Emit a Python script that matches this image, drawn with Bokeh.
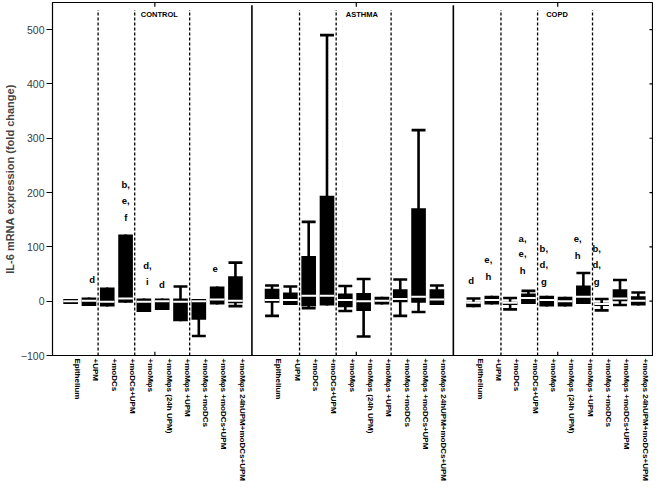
from bokeh.plotting import figure
from bokeh.models import FixedTicker, Range1d, ColumnDataSource
from bokeh.embed import file_html
from bokeh.resources import INLINE
from bokeh.core.properties import value

# ---------------- data ----------------
groups = ["CONTROL", "ASTHMA", "COPD"]
conditions = ["Epithelium", "+UPM", "+moDCs", "+moDCs+UPM", "+moMφs",
              "+moMφs (24h UPM)", "+moMφs +UPM", "+moMφs +moDCs",
              "+moMφs +moDCs+UPM", "+moMφs 24hUPM+moDCs+UPM"]
y_ticks = [-100, 0, 100, 200, 300, 400, 500]

control_wlo = [-5, -9, -10, -3, -20, -16, -37, -64, -6, -9]
control_q1 = [-5, -9, -10, -3, -20, -16, -37, -34, -6, -4]
control_med = [0, 1, -1, 5, -1, 0, -1, 0, 3, 1]
control_q3 = [4, 7, 25, 123, 5, 5, 5, 4, 27, 46]
control_whi = [4, 7, 25, 123, 5, 5, 27, 4, 27, 71]

asthma_wlo = [-27, -7, -13, -8, -18, -65, -6, -27, -20, -7]
asthma_q1 = [-3, -7, -10, -8, -11, -18, -6, -2, -3, -7]
asthma_med = [2, 2, 10, 10, 2, 0, 1, 4, 8, 3]
asthma_q3 = [23, 16, 83, 194, 14, 15, 8, 22, 171, 22]
asthma_whi = [29, 27, 146, 490, 28, 41, 8, 40, 315, 29]

copd_wlo = [-11, -6, -15, -5, -10, -10, -5, -17, -7, -8]
copd_q1 = [-11, -6, -7, -5, -10, -10, -5, -9, 0, -8]
copd_med = [-3, 2, -3, 6, 2, 0, 8, -5, 5, 1]
copd_q3 = [-1, 10, -1, 14, 10, 8, 29, -3, 22, 9]
copd_whi = [5, 10, 6, 19, 10, 8, 52, 4, 39, 16]

# significance letters: (group, condition index, letters)
sig_letters = [
    (0, 1, ["d"]),
    (0, 3, ["b,", "e,", "f"]),
    (0, 4, ["d,", "i"]),
    (0, 5, ["d"]),
    (0, 8, ["e"]),
    (2, 0, ["d"]),
    (2, 1, ["e,", "h"]),
    (2, 3, ["a,", "e,", "h"]),
    (2, 4, ["b,", "d,", "g"]),
    (2, 6, ["e,", "h"]),
    (2, 7, ["b,", "d,", "g"]),
]
# layout of the letters (x offset from box centre, y of first line)
sig_layout = [(0.17, 40), (0.01, 215), (0.19, 66), (-0.02, 31), (-0.11, 60),
              (-0.13, 38), (-0.19, 75), (-0.32, 116), (-0.16, 97),
              (-0.31, 114), (-0.27, 97)]

# ---------------- layout helpers ----------------
GROUP_STEP = 11
pos, wlo, q1, med, q3, whi = [], [], [], [], [], []
series = [(control_wlo, control_q1, control_med, control_q3, control_whi),
          (asthma_wlo, asthma_q1, asthma_med, asthma_q3, asthma_whi),
          (copd_wlo, copd_q1, copd_med, copd_q3, copd_whi)]
for g, (a, b, c, d, e) in enumerate(series):
    for i in range(len(conditions)):
        pos.append(g * GROUP_STEP + i)
        wlo.append(a[i]); q1.append(b[i]); med.append(c[i]); q3.append(d[i]); whi.append(e[i])

X0, X1 = -0.99, 31.83
Y0, Y1 = -100, 550

p = figure(width=653, height=483, x_range=Range1d(X0, X1), y_range=Range1d(Y0, Y1),
           output_backend="svg", toolbar_location=None,
           min_border_left=0, min_border_right=0, min_border_top=2, min_border_bottom=0)
p.xgrid.visible = False
p.ygrid.visible = False
p.outline_line_color = "black"
p.outline_line_width = 1.2
p.background_fill_color = "white"
p.border_fill_color = "white"

# y axis
ya = p.yaxis[0]
ya.ticker = FixedTicker(ticks=y_ticks)
ya.axis_label = "IL-6 mRNA expression (fold change)"
ya.axis_label_text_font = "Liberation Sans"
ya.axis_label_text_font_style = "bold"
ya.axis_label_text_font_size = "11px"
ya.axis_label_standoff = 2
ya.major_label_text_font = "Liberation Sans"
ya.major_label_text_font_size = "10.5px"
ya.major_label_text_color = "#3a3a3a"
ya.major_label_standoff = 2
ya.major_tick_out = 6
ya.major_tick_in = 0
ya.minor_tick_line_color = None
ya.axis_line_color = "black"
ya.major_tick_line_color = "black"

# x axis (category labels, shifted a little right of the boxes as in the original)
xa = p.xaxis[0]
label_ticks = []
overrides = {}
for g in range(len(groups)):
    for i, c in enumerate(conditions):
        t = g * GROUP_STEP + i + 0.375
        label_ticks.append(t)
        overrides[t] = c
xa.ticker = FixedTicker(ticks=label_ticks)
xa.major_label_overrides = overrides
xa.major_label_orientation = "vertical"
xa.major_label_text_font = "Liberation Sans"
xa.major_label_text_font_style = "bold"
xa.major_label_text_font_size = "8px"
xa.major_label_text_color = "black"
xa.major_label_standoff = 3
xa.major_tick_out = 0
xa.major_tick_in = 0
xa.major_tick_line_color = None
xa.minor_tick_line_color = None
xa.axis_line_color = "black"

# group separators
solid_x = [g * GROUP_STEP + 9.9 for g in range(len(groups) - 1)]
p.segment(x0=solid_x, y0=[Y0] * len(solid_x), x1=solid_x, y1=[545] * len(solid_x),
          line_color="black", line_width=1.6)
dash_x = [g * GROUP_STEP + o for g in range(len(groups)) for o in (1.5, 3.5, 6.5)]
p.segment(x0=dash_x, y0=[Y0] * len(dash_x), x1=dash_x, y1=[536] * len(dash_x),
          line_color="black", line_width=1.3, line_dash="3 2")

# inner ticks at group centres (top and bottom) and on the right edge
gc = [g * GROUP_STEP + 4.6 for g in range(len(groups))]
p.segment(x0=gc, y0=[Y1] * 3, x1=gc, y1=[Y1 - 8] * 3, line_color="black", line_width=1.2)
p.segment(x0=gc, y0=[Y0] * 3, x1=gc, y1=[Y0 + 7] * 3, line_color="black", line_width=1.2)
rt = y_ticks[1:]
p.segment(x0=[X1 - 0.22] * len(rt), y0=rt, x1=[X1] * len(rt), y1=rt, line_color="black", line_width=1.2)

# group titles
p.text(x=[4.84, 15.9, 26.56], y=[527] * 3, text=groups,
       text_font=value("Liberation Sans"), text_font_style="bold",
       text_font_size="7.5px", text_align="center", text_baseline="middle", text_color="black")

# box plots
src = ColumnDataSource(dict(pos=pos, wlo=wlo, q1=q1, med=med, q3=q3, whi=whi,
                            left=[x - 0.4 for x in pos], right=[x + 0.4 for x in pos]))
p.segment(x0="pos", y0="wlo", x1="pos", y1="whi", source=src, line_color="black", line_width=2.6)
cap_hi = ColumnDataSource(dict(
    x0=[x - 0.38 for x, h, t in zip(pos, whi, q3) if h > t],
    x1=[x + 0.38 for x, h, t in zip(pos, whi, q3) if h > t],
    y=[h for h, t in zip(whi, q3) if h > t]))
cap_lo = ColumnDataSource(dict(
    x0=[x - 0.38 for x, l, b in zip(pos, wlo, q1) if l < b],
    x1=[x + 0.38 for x, l, b in zip(pos, wlo, q1) if l < b],
    y=[l for l, b in zip(wlo, q1) if l < b]))
for cs in (cap_hi, cap_lo):
    p.segment(x0="x0", y0="y", x1="x1", y1="y", source=cs, line_color="black", line_width=2.6)
p.vbar(x="pos", width=0.8, bottom="q1", top="q3", source=src, fill_color="black", line_color=None)
p.segment(x0="left", y0="med", x1="right", y1="med", source=src, line_color="white", line_width=2)

# significance letters
tx, ty, tt = [], [], []
for (g, i, letters), (dx, y0) in zip(sig_letters, sig_layout):
    for k, s in enumerate(letters):
        tx.append(g * GROUP_STEP + i + dx)
        ty.append(y0 - 30 * k)
        tt.append(s)
p.text(x=tx, y=ty, text=tt, text_font=value("Liberation Sans"), text_font_style="bold",
       text_font_size="9.5px", text_align="center", text_baseline="middle", text_color="black")

open("out.html", "w").write(file_html(p, INLINE))
